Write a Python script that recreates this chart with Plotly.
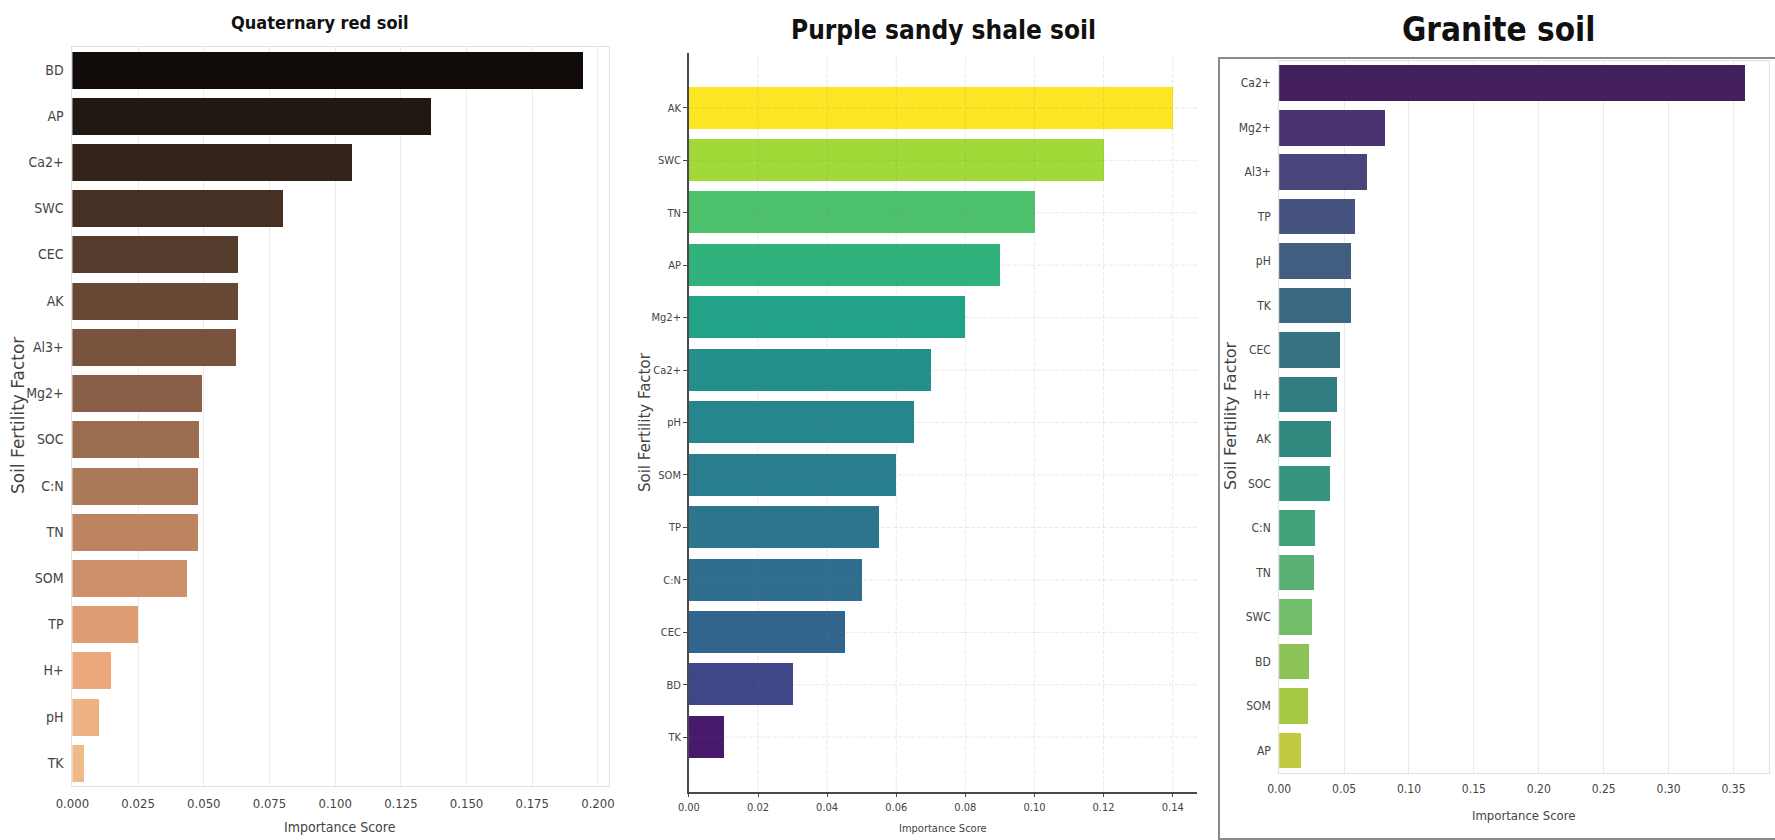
import colorsys
import numpy as np
import plotly.graph_objects as go
from plotly.colors import sample_colorscale, unlabel_rgb

W, H = 1775, 840

# ---- data -------------------------------------------------------------
# Quaternary red soil
qrs_factors = ["BD", "AP", "Ca2+", "SWC", "CEC", "AK", "Al3+", "Mg2+",
               "SOC", "C:N", "TN", "SOM", "TP", "H+", "pH", "TK"]
qrs_scores = [0.1943, 0.1367, 0.1067, 0.0803, 0.0633, 0.0632, 0.0624, 0.0494,
              0.0484, 0.0479, 0.0479, 0.0439, 0.0250, 0.0148, 0.0104, 0.0044]

# Purple sandy shale soil
pss_factors = ["AK", "SWC", "TN", "AP", "Mg2+", "Ca2+", "pH", "SOM",
               "TP", "C:N", "CEC", "BD", "TK"]
pss_scores = [0.14, 0.12, 0.10, 0.09, 0.08, 0.07, 0.065, 0.06,
              0.055, 0.05, 0.045, 0.03, 0.01]

# Granite soil
gs_factors = ["Ca2+", "Mg2+", "Al3+", "TP", "pH", "TK", "CEC", "H+",
              "AK", "SOC", "C:N", "TN", "SWC", "BD", "SOM", "AP"]
gs_scores = [0.3594, 0.0819, 0.0677, 0.0586, 0.0558, 0.0556, 0.0472, 0.0447,
             0.0402, 0.0391, 0.0280, 0.0266, 0.0253, 0.0233, 0.0222, 0.0172]

panel_titles = ["Quaternary red soil", "Purple sandy shale soil", "Granite soil"]
x_title = "Importance Score"
y_title = "Soil Fertility Factor"

# ---- colour helpers ------------------------------------------------------
def copper(x):
    return (min(1.0, x / 0.809524), 0.7812 * x, 0.4975 * x)

def desaturate(rgb, prop=0.75):
    h, l, s = colorsys.rgb_to_hls(*rgb)
    return colorsys.hls_to_rgb(h, l, s * prop)

def css(rgb):
    return "rgb({:.0f},{:.0f},{:.0f})".format(*(255 * c for c in rgb))

def positions(n):
    return [(i + 1) / (n + 1) for i in range(n)]

qrs_colors = [css(desaturate(copper(p))) for p in positions(len(qrs_factors))]
gs_colors = [css(desaturate(tuple(c / 255 for c in unlabel_rgb(s))))
             for s in sample_colorscale("Viridis", positions(len(gs_factors)))]

NARROW = "DejaVu Sans Condensed, DejaVu Sans, sans-serif"
PLAIN = "DejaVu Sans, sans-serif"
TXT = "#444444"

def px_x(v):
    return v / W

def px_y(v):
    return 1 - v / H

fig = go.Figure()

fig.add_trace(go.Bar(x=qrs_scores, y=qrs_factors, orientation="h", width=0.8,
                     marker=dict(color=qrs_colors, line=dict(width=0)),
                     xaxis="x", yaxis="y", showlegend=False))
fig.add_trace(go.Bar(x=pss_scores, y=pss_factors, orientation="h", width=0.8,
                     marker=dict(color=pss_scores, colorscale="Viridis",
                                 cmin=0, cmax=max(pss_scores), line=dict(width=0)),
                     xaxis="x2", yaxis="y2", showlegend=False))
fig.add_trace(go.Bar(x=gs_scores, y=gs_factors, orientation="h", width=0.8,
                     marker=dict(color=gs_colors, line=dict(width=0)),
                     xaxis="x3", yaxis="y3", showlegend=False))

light_frame = dict(showline=True, mirror=True, linecolor="#e2e2e2", linewidth=1,
                   zeroline=False, automargin=False)
dark_spine = dict(showgrid=False, zeroline=False, automargin=False,
                  showline=True, linecolor="#4a4a4a", linewidth=1.5,
                  ticks="outside", ticklen=4, tickcolor="#4a4a4a", tickwidth=1)

n2 = len(pss_factors)
pad2 = 0.05 * (n2 - 1 + 0.8)
y2_range = [n2 - 1 + 0.4 + pad2, -0.4 - pad2]

fig.update_layout(
    width=W, height=H, margin=dict(l=0, r=0, t=0, b=0),
    paper_bgcolor="white", plot_bgcolor="white", bargap=0,
    xaxis=dict(domain=[px_x(72.4), px_x(608.5)], anchor="y",
               range=[0, max(qrs_scores) * 1.05], dtick=0.025, tick0=0,
               tickformat=".3f", showgrid=True, gridcolor="#ebebeb",
               ticks="", ticklabelstandoff=5,
               tickfont=dict(family=NARROW, size=13, color=TXT), **light_frame),
    yaxis=dict(domain=[px_y(786), px_y(46.6)], anchor="x",
               categoryorder="array", categoryarray=qrs_factors,
               autorange="reversed", showgrid=False, ticks="",
               ticklabelstandoff=5,
               tickfont=dict(family=NARROW, size=14, color=TXT), **light_frame),
    xaxis2=dict(domain=[px_x(688.9), px_x(1196.9)], anchor="y2",
                range=[0, max(pss_scores) * 1.05], dtick=0.02, tick0=0,
                tickformat=".2f", tickfont=dict(family=NARROW, size=11, color=TXT),
                **dark_spine),
    yaxis2=dict(domain=[px_y(791.7), px_y(53.3)], anchor="x2",
                categoryorder="array", categoryarray=pss_factors,
                range=y2_range, tickfont=dict(family=NARROW, size=11, color=TXT),
                **dark_spine),
    xaxis3=dict(domain=[px_x(1279.2), px_x(1769)], anchor="y3",
                range=[0, max(gs_scores) * 1.05], dtick=0.05, tick0=0,
                tickformat=".2f", showgrid=True, gridcolor="#ebebeb",
                ticks="", ticklabelstandoff=5,
                tickfont=dict(family=NARROW, size=12, color=TXT), **light_frame),
    yaxis3=dict(domain=[px_y(772.7), px_y(61)], anchor="x3",
                categoryorder="array", categoryarray=gs_factors,
                autorange="reversed", showgrid=False, ticks="",
                ticklabelstandoff=5,
                tickfont=dict(family=NARROW, size=12, color=TXT), **light_frame),
)

# grid of the middle panel, drawn over the bars
grid_line = dict(color="rgba(128,128,128,0.18)", width=1, dash="4px,2px")
for t in np.arange(0, max(pss_scores) * 1.05, 0.02):
    fig.add_shape(type="line", xref="x2", yref="y2 domain", x0=t, x1=t, y0=0, y1=1,
                  line=grid_line, layer="above")
for f in pss_factors:
    fig.add_shape(type="line", xref="x2 domain", yref="y2", x0=0, x1=1, y0=f, y1=f,
                  line=grid_line, layer="above")

# frame around the granite panel
fig.add_shape(type="rect", xref="paper", yref="paper",
              x0=px_x(1219), x1=1.01, y0=px_y(839), y1=px_y(58),
              line=dict(color="#8a8a8a", width=2), layer="above")

# panel titles
for text, xc, yc, size in [(panel_titles[0], 320, 22, 18),
                           (panel_titles[1], 943, 30, 26),
                           (panel_titles[2], 1498, 30, 33)]:
    fig.add_annotation(text=text, x=px_x(xc), y=px_y(yc), xref="paper", yref="paper",
                       xanchor="center", yanchor="middle", showarrow=False,
                       font=dict(family=NARROW, size=size, color="#111111", weight=700))

# axis titles
for xc, yc, size in [(340, 827, 14), (943, 828, 11), (1523.5, 815, 13)]:
    fig.add_annotation(text=x_title, x=px_x(xc), y=px_y(yc), xref="paper", yref="paper",
                       xanchor="center", yanchor="middle", showarrow=False,
                       font=dict(family=NARROW, size=size, color=TXT))
for xc, yc, size in [(18, 416, 17), (645, 422, 15), (1230, 416, 16)]:
    fig.add_annotation(text=y_title, x=px_x(xc), y=px_y(yc), xref="paper", yref="paper",
                       xanchor="center", yanchor="middle", showarrow=False,
                       textangle=-90, font=dict(family=PLAIN, size=size, color=TXT))

fig.write_html("out.html")
